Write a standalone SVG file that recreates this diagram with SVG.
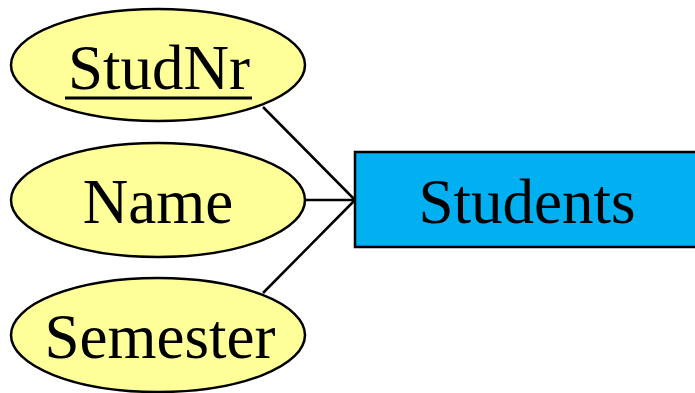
<svg xmlns="http://www.w3.org/2000/svg" width="695" height="393" viewBox="0 0 695 393">
<style>
.attr{fill:#FFFF99;stroke:#000;stroke-width:2.5}
.ent{fill:#00B0F0;stroke:#000;stroke-width:2.5}
.t{font-family:"Liberation Serif","Times New Roman",serif;font-size:63px;fill:#000;text-anchor:middle}
.c{stroke:#000;stroke-width:2.5;fill:none}
</style>
<rect width="695" height="393" fill="#fff"/>
<g id="connectors">
<line class="c" x1="263" y1="107" x2="355" y2="200"/>
<line class="c" x1="305" y1="200" x2="355" y2="200"/>
<line class="c" x1="263" y1="293" x2="355" y2="200"/>
</g>
<g id="studnr">
<ellipse class="attr" cx="158" cy="65" rx="147" ry="56"/>
<text class="t" x="159" y="89">StudNr</text>
<line x1="65" y1="98" x2="252" y2="98" stroke="#000" stroke-width="3"/>
</g>
<g id="name">
<ellipse class="attr" cx="158" cy="200" rx="147" ry="57"/>
<text class="t" x="158" y="223">Name</text>
</g>
<g id="semester">
<ellipse class="attr" cx="158" cy="335" rx="147" ry="57"/>
<text class="t" x="160" y="358">Semester</text>
</g>
<g id="students">
<rect class="ent" x="355" y="152" width="345" height="95"/>
<text class="t" x="527" y="223">Students</text>
</g>
</svg>
